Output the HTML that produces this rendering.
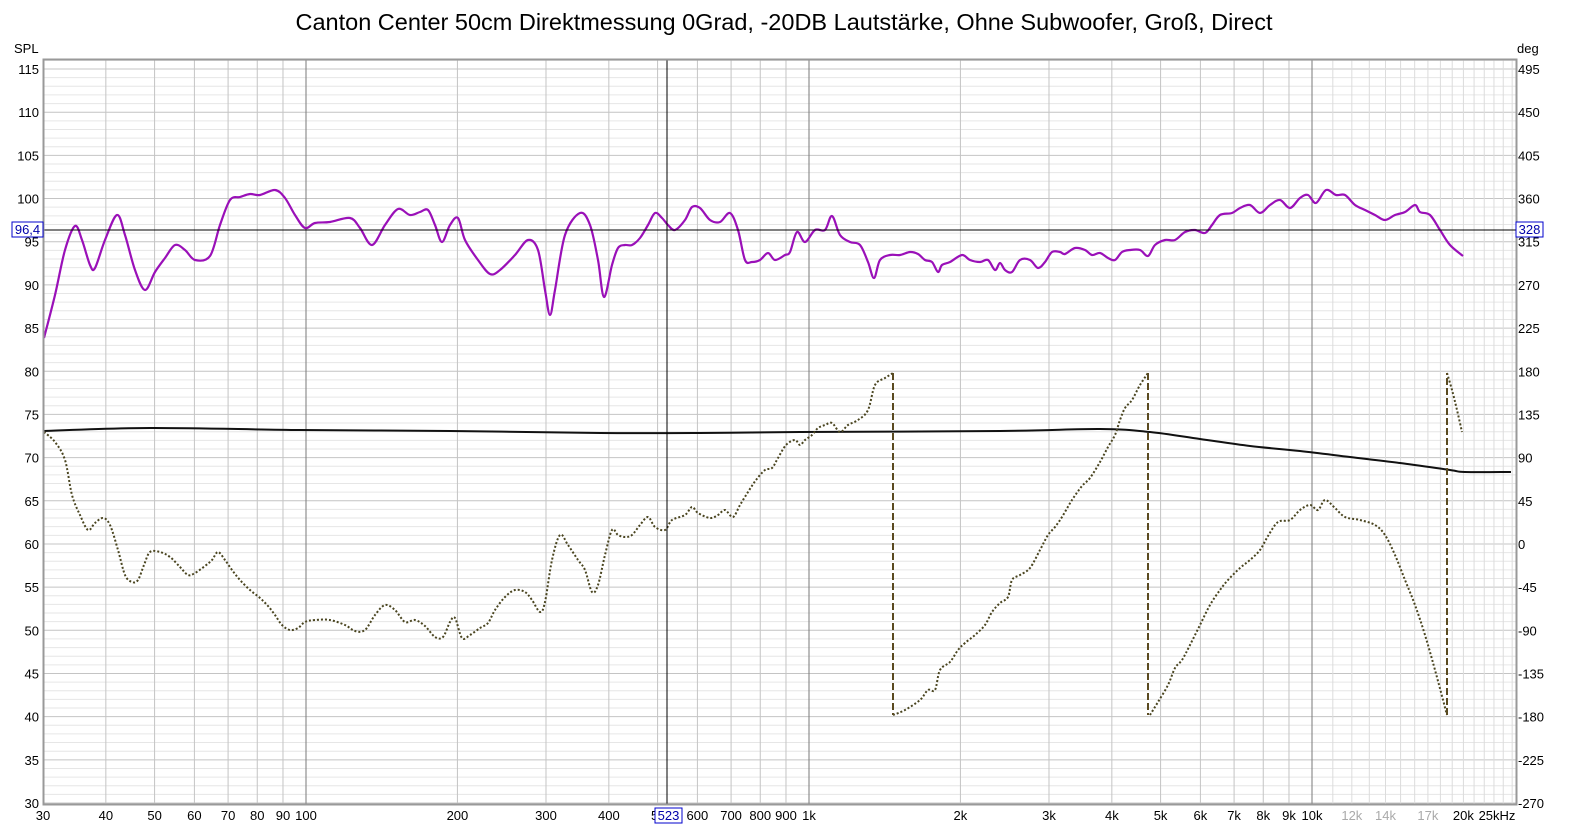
<!DOCTYPE html>
<html><head><meta charset="utf-8"><style>
body{margin:0;background:#fff;width:1574px;height:830px;overflow:hidden;font-family:"Liberation Sans",sans-serif}
</style></head><body>
<svg id="s" width="1574" height="830" xmlns="http://www.w3.org/2000/svg" font-family="Liberation Sans, sans-serif">
<rect width="1574" height="830" fill="#fff"/>
<text x="784" y="30" font-size="23.5" text-anchor="middle" fill="#000">Canton Center 50cm Direktmessung 0Grad, -20DB Lautstärke, Ohne Subwoofer, Groß, Direct</text>
<text x="14" y="53" font-size="13">SPL</text>
<text x="1517" y="53" font-size="13">deg</text>
<g id="grid"></g>
<g id="curves"></g>
<rect x="43.5" y="59.5" width="1473" height="745" fill="none" stroke="#999" stroke-width="2"/>
</svg>
<script>
const NS="http://www.w3.org/2000/svg";
const g=document.getElementById('grid'),c=document.getElementById('curves'),s=document.getElementById('s');
function el(p,t,a,txt){const e=document.createElementNS(NS,t);for(const k in a)e.setAttribute(k,a[k]);if(txt!==undefined)e.textContent=txt;p.appendChild(e);return e;}
const X=f=>306+503*Math.log10(f/100);
const Y=d=>803-(d-30)*8.635;
const L=44,R=1516,T=60,B=805;
for(let d=31;d<=116;d++){if(d%5)el(g,'line',{x1:L,x2:R,y1:Y(d),y2:Y(d),stroke:'#e6e6e6','stroke-width':1});}
for(let d=30;d<=115;d+=5){el(g,'line',{x1:L,x2:R,y1:Y(d),y2:Y(d),stroke:'#c4c4c4','stroke-width':1});
el(s,'text',{x:39,y:Y(d)+5,'font-size':13,'text-anchor':'end'},String(d));
el(s,'text',{x:1518,y:Y(d)+5,'font-size':13},String(-270+(d-30)*9));}
let fr=[];for(let f=30;f<100;f+=10)fr.push(f);for(let f=100;f<1000;f+=100)fr.push(f);for(let f=1000;f<10000;f+=1000)fr.push(f);for(let f=10000;f<=25000;f+=1000)fr.push(f);
for(const f of fr){const maj=(f==100||f==1000||f==10000);el(g,'line',{x1:X(f),x2:X(f),y1:T,y2:B,stroke:maj?'#7a7a7a':(f>10000?'#dcdcdc':'#c4c4c4'),'stroke-width':1});}
const lab=[[30,'30'],[40,'40'],[50,'50'],[60,'60'],[70,'70'],[80,'80'],[90,'90'],[100,'100'],[200,'200'],[300,'300'],[400,'400'],[500,'5'],[600,'600'],[700,'700'],[800,'800'],[900,'900'],[1000,'1k'],[2000,'2k'],[3000,'3k'],[4000,'4k'],[5000,'5k'],[6000,'6k'],[7000,'7k'],[8000,'8k'],[9000,'9k'],[10000,'10k'],[12000,'12k',1],[14000,'14k',1],[17000,'17k',1],[20000,'20k']];
for(const l of lab){el(s,'text',{x:l[0]==500?X(500)-3:X(l[0]),y:820,'font-size':13,'text-anchor':'middle',fill:l[2]?'#aaa':'#000'},l[1]);}
el(s,'text',{x:1497,y:820,'font-size':13,'text-anchor':'middle'},'25kHz');
function path(pts,attrs){let d='M'+pts.map(p=>p.join(',')).join(' L');attrs.d=d;attrs.fill='none';return el(c,'path',attrs);}
function spath(p,attrs){let d='M'+p[0].join(',');for(let i=0;i<p.length-1;i++){const p0=p[i-1]||p[i],p1=p[i],p2=p[i+1],p3=p[i+2]||p2;
d+=` C${p1[0]+(p2[0]-p0[0])/6},${p1[1]+(p2[1]-p0[1])/6} ${p2[0]-(p3[0]-p1[0])/6},${p2[1]-(p3[1]-p1[1])/6} ${p2[0]},${p2[1]}`;}
attrs.d=d;attrs.fill='none';return el(c,'path',attrs);}
spath([[44,431],[150,428],[300,430],[450,431],[600,433],[700,433],[800,432],[1000,431],[1100,429],[1150,432],[1200,439],[1250,446],[1300,451],[1350,457],[1400,463],[1450,470],[1465,472],[1511,472]],{stroke:'#111','stroke-width':2});
const ph1=[[44,432],[55,442],[65,460],[72,495],[80,515],[88,530],[95,523],[103,518],[110,525],[118,550],[125,575],[132,582],[138,580],[144,565],[150,552],[160,552],[170,557],[180,567],[188,575],[195,573],[205,566],[212,560],[218,552],[225,560],[232,570],[240,580],[250,590],[260,598],[268,606],[275,615],[282,625],[290,630],[298,628],[305,622],[315,620],[330,620],[345,625],[355,631],[365,630],[375,615],[385,605],[395,610],[405,622],[415,620],[425,626],[435,637],[443,637],[450,622],[455,618],[462,638],[470,635],[480,628],[488,623],[495,610],[505,597],[515,590],[525,592],[532,600],[540,612],[545,602],[552,560],[560,535],[568,545],[578,560],[585,570],[592,592],[598,585],[605,555],[612,530],[618,535],[625,537],[632,535],[640,525],[648,517],[655,527],[665,530],[672,520],[685,515],[692,507],[698,513],[710,518],[718,515],[725,510],[733,517],[740,505],[748,492],[756,480],[765,470],[772,468],[778,458],[786,445],[795,440],[800,445],[805,440],[812,435],[818,428],[825,425],[832,423],[840,432],[848,425],[858,420],[868,410],[875,385],[885,378],[893,373]];
const ph2=[[893,715],[905,710],[920,700],[928,690],[935,690],[940,670],[950,662],[958,650],[965,643],[975,635],[985,625],[992,612],[1000,603],[1008,597],[1012,580],[1020,575],[1030,568],[1040,550],[1048,535],[1055,527],[1062,517],[1072,500],[1082,486],[1090,478],[1100,462],[1108,447],[1115,435],[1120,420],[1125,408],[1132,400],[1140,385],[1148,373]];
const ph3=[[1150,715],[1158,702],[1168,685],[1175,668],[1182,660],[1190,645],[1200,625],[1210,605],[1220,590],[1228,580],[1240,568],[1250,560],[1260,550],[1268,536],[1278,522],[1290,520],[1300,510],[1310,505],[1318,510],[1325,500],[1335,508],[1345,517],[1360,520],[1375,525],[1385,535],[1395,555],[1405,580],[1415,605],[1425,635],[1435,670],[1447,715]];
const ph4=[[1447,373],[1452,390],[1457,410],[1462,432]];
[ph1,ph2,ph3,ph4].forEach(p=>spath(p,{stroke:'#4a4520','stroke-width':2,'stroke-dasharray':'2,2'}));
const dd={stroke:'#5a4a20','stroke-width':2,'stroke-dasharray':'7,3'};
path([[893,373],[893,715]],Object.assign({},dd));path([[1148,373],[1148,715]],Object.assign({},dd));path([[1447,715],[1447,373]],Object.assign({},dd));
const pu=[[44,338],[55,295],[65,250],[75,226],[82,240],[90,265],[95,268],[105,240],[117,215],[125,235],[135,270],[145,290],[155,272],[165,258],[175,245],[185,250],[195,260],[210,256],[220,225],[230,200],[240,197],[250,194],[260,195],[275,190],[285,198],[295,215],[305,228],[315,223],[330,222],[350,218],[360,228],[372,245],[385,225],[398,209],[410,215],[420,212],[428,210],[435,225],[442,242],[450,225],[458,218],[465,240],[478,260],[490,274],[500,270],[515,255],[528,240],[538,250],[545,290],[550,315],[555,290],[565,235],[580,213],[590,225],[598,260],[604,297],[612,265],[618,248],[625,245],[632,245],[640,238],[648,225],[655,213],[662,218],[668,225],[675,230],[685,220],[692,207],[700,208],[710,220],[720,222],[730,213],[738,230],[745,260],[752,262],[760,260],[768,253],[775,260],[785,255],[790,252],[797,232],[805,242],[815,230],[825,230],[832,216],[840,235],[850,242],[860,245],[868,262],[874,278],[880,260],[890,255],[900,255],[910,252],[918,254],[925,260],[932,262],[938,272],[942,265],[950,262],[962,255],[970,260],[980,262],[988,260],[995,270],[1000,263],[1005,270],[1012,272],[1020,260],[1030,260],[1038,268],[1045,262],[1052,252],[1060,252],[1065,254],[1075,248],[1085,250],[1092,255],[1100,253],[1108,258],[1115,260],[1122,252],[1130,250],[1140,250],[1148,256],[1155,245],[1165,240],[1175,240],[1185,232],[1195,230],[1205,233],[1212,225],[1220,215],[1232,213],[1240,208],[1250,205],[1260,213],[1270,205],[1280,200],[1290,208],[1300,198],[1308,195],[1316,203],[1326,190],[1336,195],[1345,195],[1355,205],[1365,210],[1375,215],[1385,220],[1395,215],[1405,212],[1415,205],[1420,212],[1430,215],[1440,230],[1450,245],[1463,256]];
spath(pu,{stroke:'#9a10b8','stroke-width':2.2,'stroke-linejoin':'round'});
el(c,'line',{x1:L,x2:R,y1:230,y2:230,stroke:'#000','stroke-width':1});
el(c,'line',{x1:667,x2:667,y1:T,y2:B,stroke:'#000','stroke-width':1});
function box(x,y,w,t){el(s,'rect',{x:x,y:y,width:w,height:15,fill:'#fff',stroke:'#00c','stroke-width':1});el(s,'text',{x:x+w/2,y:y+12,'font-size':13,'text-anchor':'middle',fill:'#00a'},t);}
box(12,222,31,'96,4');box(1516,222,27,'328');box(655,808,27,'523');
</script>
</body></html>
